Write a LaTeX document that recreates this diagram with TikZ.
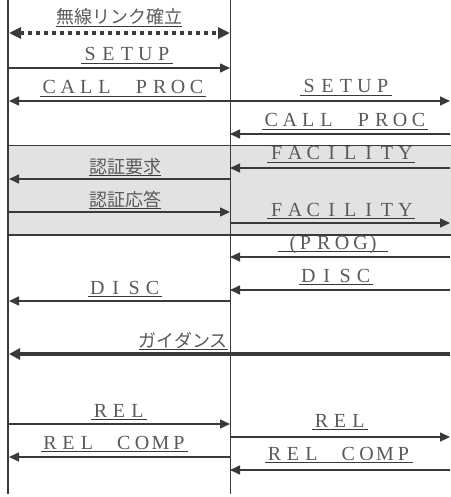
\documentclass[tikz,border=0pt]{standalone}
\usepackage{fontspec}
\newfontfamily\jpfont{Noto Sans CJK JP}
\newfontfamily\enfont{Liberation Serif}
\usepackage{tikz}
\usetikzlibrary{arrows.meta,positioning}
\definecolor{linegray}{HTML}{3A3A3A}
\definecolor{textgray}{HTML}{5A5A5A}
\definecolor{boxgray}{HTML}{E2E2E2}
\makeatletter
% underlined text, and full-width letters in fixed cells
\newcommand\ul[1]{\setbox0\hbox{#1}\rlap{\textcolor{linegray}{\rule[-3pt]{\wd0}{1pt}}}\box0}
\newcommand\zen[1]{\ul{\@tfor\zen@c:=#1\do{\makebox[18.4pt]{\zen@c}}}}
\newcommand\zlp{\hfill(}
\newcommand\zrp{)\hfill}
\makeatother
\tikzstyle{life} = [draw=linegray, line width=1.8pt]
\tikzstyle{msg} = [draw=linegray, line width=1.5pt, -{Triangle[length=10pt,width=9pt]}]
\tikzstyle{link} = [draw=linegray, line width=3.5pt, dash pattern=on 3.5pt off 4.5pt, {Triangle[length=12pt,width=11pt]}-{Triangle[length=12pt,width=11pt]}]
\tikzstyle{guide} = [draw=linegray, line width=4pt, -{Triangle[length=11pt,width=11pt]}]
\tikzstyle{enlabel} = [anchor=base, inner sep=0pt, text=textgray, font=\enfont\fontsize{20}{24}\selectfont]
\tikzstyle{jplabel} = [anchor=base, inner sep=0pt, text=textgray, font=\jpfont\fontsize{18}{22}\selectfont]

\begin{document}
\begin{tikzpicture}[x=1pt, y=-1pt]
        \useasboundingbox (0,0) rectangle (450,497);

        % shaded authentication block
        \node[rectangle, draw=linegray, line width=1.5pt, fill=boxgray, minimum width=450pt, minimum height=89pt, anchor=north west, inner sep=0pt] (auth) at (7.8,145) {};

        % lifelines
        \coordinate (Ltop) at (7.8,0);
        \coordinate (Lbot) at (7.8,494);
        \coordinate (Mtop) at (230.3,0);
        \coordinate (Mbot) at (230.3,494);
        \draw[life] (Ltop) -- (Lbot);
        \draw[life, line width=1.5pt] (Mtop) -- (Mbot);

        % message rows
        \foreach \n/\y in {1/33, 2/68, 3/101, 4/134, 5/168, 6/179, 7/212, 8/223, 9/257, 10/290, 11/301, 12/354, 13/424, 14/437, 15/457, 16/470} {
            \coordinate (L\n) at (9,\y);
            \coordinate (M\n) at (230,\y);
            \coordinate (R\n) at (450,\y);
        }

        \draw[link] (L1) -- (M1);
        \draw[msg] (L2) -- (M2);
        \draw[msg] (M3) -- (L3);
        \draw[msg] (M3) -- (R3);
        \draw[msg] (R4) -- (M4);
        \draw[msg] (R5) -- (M5);
        \draw[msg] (M6) -- (L6);
        \draw[msg] (L7) -- (M7);
        \draw[msg] (M8) -- (R8);
        \draw[msg] (R9) -- (M9);
        \draw[msg] (R10) -- (M10);
        \draw[msg] (M11) -- (L11);
        \draw[guide] (R12) -- (L12);
        \draw[msg] (L13) -- (M13);
        \draw[msg] (M14) -- (R14);
        \draw[msg] (M15) -- (L15);
        \draw[msg] (R16) -- (M16);

        % labels
        \node[jplabel] (linkup) at (119,24) {\ul{無線リンク確立}};
        \node[enlabel] (setupL) at (127,61) {\zen{SETUP}};
        \node[enlabel] (callL) at (123,94) {\zen{CALL\ PROC}};
        \node[enlabel] (setupR) at (346,93) {\zen{SETUP}};
        \node[enlabel] (callR) at (345,127) {\zen{CALL\ PROC}};
        \node[enlabel] (facR) at (341,160) {\zen{FACILITY}};
        \node[jplabel] (authreq) at (125,173) {\ul{認証要求}};
        \node[jplabel] (authresp) at (125,206) {\ul{認証応答}};
        \node[enlabel] (facS) at (341,216) {\zen{FACILITY}};
        \node[enlabel] (prog) at (333,249) {\zen{\zlp PROG\zrp}};
        \node[enlabel] (discR) at (336,282) {\zen{DISC}};
        \node[enlabel] (discL) at (125,294) {\zen{DISC}};
        \node[jplabel, anchor=base east] (guidance) at (228,347) {\ul{ガイダンス}};
        \node[enlabel] (relL) at (119,417) {\zen{REL}};
        \node[enlabel] (relcompL) at (114.5,449) {\zen{REL\ COMP}};
        \node[enlabel] (relR) at (340,427) {\zen{REL}};
        \node[enlabel] (relcompR) at (339,460) {\zen{REL\ COMP}};
    \end{tikzpicture}
\end{document}
